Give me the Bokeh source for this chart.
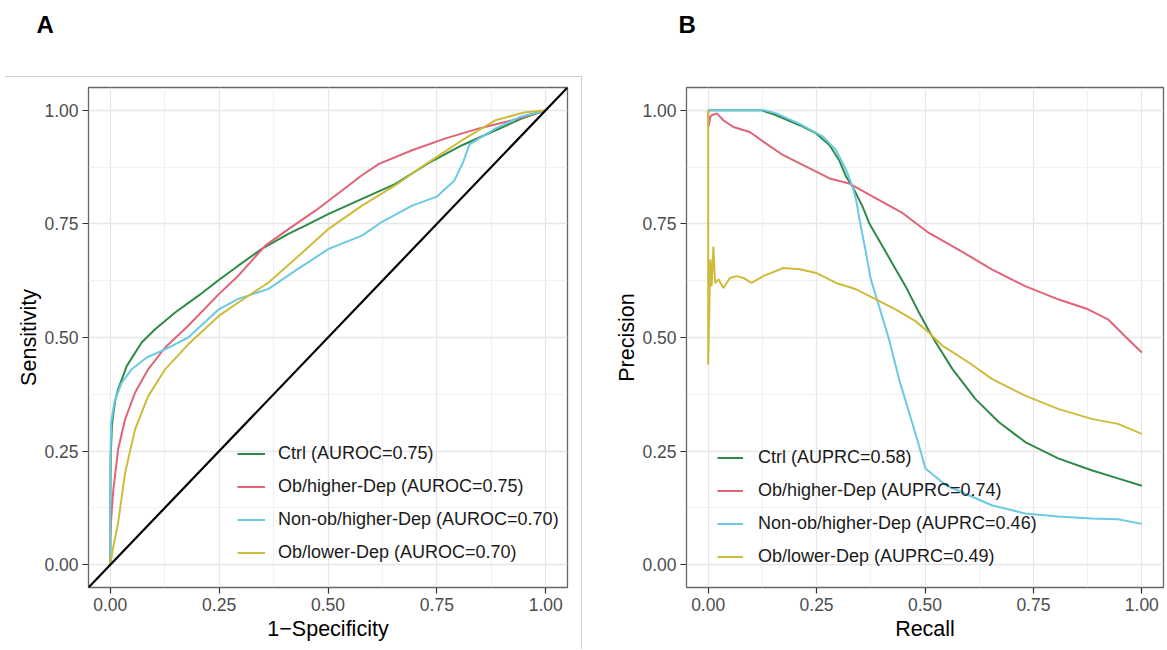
from bokeh.plotting import figure
from bokeh.layouts import row
from bokeh.models import Range1d, FixedTicker, Legend, LegendItem, LinearAxis
from bokeh.embed import file_html
from bokeh.resources import INLINE

FONT = "Liberation Sans"

# ---------------- data ----------------
TICKS = [0.0, 0.25, 0.5, 0.75, 1.0]
MINOR = [0.125, 0.375, 0.625, 0.875]
TICK_LABELS = ["0.00", "0.25", "0.50", "0.75", "1.00"]

SERIES = ["Ctrl", "Ob/higher-Dep", "Non-ob/higher-Dep", "Ob/lower-Dep"]
AUROC = ["0.75", "0.75", "0.70", "0.70"]
AUPRC = ["0.58", "0.74", "0.46", "0.49"]
COLORS = ["#2f8a48", "#e06377", "#6cc9e2", "#cdbc3c"]

# ROC curves (1-Specificity, Sensitivity)
roc_ctrl_x = [0, 0.0, 0.001, 0.004, 0.011, 0.018, 0.038, 0.072, 0.103, 0.149, 0.2025, 0.25, 0.294, 0.348,
              0.409, 0.448, 0.5015, 0.578, 0.655, 0.7315, 0.808, 0.885, 0.946, 1.0]
roc_ctrl_y = [0, 0.10, 0.24, 0.31, 0.36, 0.386, 0.4375, 0.489, 0.518, 0.555, 0.592, 0.627, 0.658, 0.695,
              0.728, 0.746, 0.772, 0.805, 0.838, 0.884, 0.923, 0.956, 0.982, 1.0]

roc_obh_x = [0, 0.0, 0.002, 0.007, 0.018, 0.034, 0.057, 0.087, 0.126, 0.179, 0.25, 0.294, 0.356, 0.41,
             0.471, 0.5015, 0.578, 0.617, 0.693, 0.77, 0.847, 0.923, 1.0]
roc_obh_y = [0, 0.05, 0.10, 0.165, 0.254, 0.32, 0.379, 0.43, 0.478, 0.526, 0.596, 0.636, 0.702, 0.739,
             0.779, 0.801, 0.857, 0.882, 0.912, 0.938, 0.96, 0.978, 1.0]

roc_nonob_x = [0, 0.0, 0.002, 0.01, 0.026, 0.049, 0.0835, 0.126, 0.179, 0.25, 0.294, 0.3635, 0.425, 0.5015,
               0.578, 0.62, 0.693, 0.75, 0.79, 0.81, 0.825, 0.885, 0.94, 1.0]
roc_nonob_y = [0, 0.20, 0.313, 0.36, 0.40, 0.43, 0.456, 0.474, 0.50, 0.5625, 0.585, 0.607, 0.647, 0.695,
               0.724, 0.752, 0.79, 0.81, 0.845, 0.885, 0.925, 0.96, 0.985, 1.0]

roc_obl_x = [0, 0.005, 0.018, 0.034, 0.057, 0.087, 0.126, 0.179, 0.25, 0.294, 0.3635, 0.425, 0.5015,
             0.578, 0.655, 0.7315, 0.808, 0.885, 0.95, 1.0]
roc_obl_y = [0, 0.03, 0.092, 0.202, 0.298, 0.371, 0.43, 0.485, 0.548, 0.577, 0.621, 0.673, 0.739,
             0.79, 0.835, 0.886, 0.934, 0.978, 0.995, 1.0]

# PR curves (Recall, Precision)
pr_ctrl_x = [0, 0.123, 0.157, 0.211, 0.249, 0.28, 0.302, 0.318, 0.333, 0.356, 0.371, 0.402, 0.424, 0.455,
             0.486, 0.509, 0.525, 0.563, 0.616, 0.67, 0.731, 0.807, 0.884, 0.945, 1.0]
pr_ctrl_y = [1.0, 1.0, 0.989, 0.967, 0.949, 0.923, 0.89, 0.854, 0.832, 0.788, 0.752, 0.701, 0.664, 0.613,
             0.555, 0.515, 0.489, 0.431, 0.365, 0.314, 0.27, 0.234, 0.208, 0.19, 0.174]

pr_obh_x = [0, 0.001, 0.005, 0.008, 0.02, 0.035, 0.058, 0.096, 0.127, 0.173, 0.226, 0.28, 0.325, 0.387,
            0.448, 0.509, 0.578, 0.654, 0.731, 0.807, 0.876, 0.922, 0.96, 1.0]
pr_obh_y = [1.0, 0.965, 0.985, 0.989, 0.993, 0.978, 0.963, 0.952, 0.931, 0.901, 0.876, 0.85, 0.839, 0.806,
            0.774, 0.73, 0.693, 0.65, 0.613, 0.584, 0.562, 0.54, 0.504, 0.467]

pr_nonob_x = [0, 0.13, 0.157, 0.211, 0.265, 0.295, 0.318, 0.333, 0.341, 0.352, 0.364, 0.375, 0.394, 0.417,
              0.44, 0.463, 0.486, 0.501, 0.548, 0.601, 0.654, 0.731, 0.807, 0.884, 0.945, 1.0]
pr_nonob_y = [1.0, 1.0, 0.993, 0.97, 0.942, 0.912, 0.869, 0.832, 0.803, 0.744, 0.686, 0.628, 0.569, 0.496,
              0.409, 0.336, 0.263, 0.212, 0.175, 0.153, 0.131, 0.113, 0.106, 0.102, 0.1, 0.09]

pr_obl_x = [0, 0.0, 0.003, 0.005, 0.008, 0.012, 0.016, 0.024, 0.035, 0.05, 0.066, 0.081, 0.10, 0.127, 0.173,
            0.211, 0.249, 0.295, 0.341, 0.387, 0.432, 0.478, 0.509, 0.54, 0.601, 0.654, 0.731, 0.807, 0.884,
            0.945, 1.0]
pr_obl_y = [1.0, 0.44, 0.58, 0.672, 0.613, 0.70, 0.62, 0.628, 0.609, 0.631, 0.635, 0.631, 0.62, 0.635, 0.653,
            0.65, 0.642, 0.62, 0.606, 0.584, 0.562, 0.536, 0.511, 0.482, 0.445, 0.409, 0.372, 0.343, 0.321,
            0.31, 0.288]

ROC = [(roc_ctrl_x, roc_ctrl_y), (roc_obh_x, roc_obh_y), (roc_nonob_x, roc_nonob_y), (roc_obl_x, roc_obl_y)]
PR = [(pr_ctrl_x, pr_ctrl_y), (pr_obh_x, pr_obh_y), (pr_nonob_x, pr_nonob_y), (pr_obl_x, pr_obl_y)]
DIAG = [-0.05, 1.05]


def make_fig(width, left, right, xlabel, ylabel, panel, offset):
    p = figure(width=width, height=649, x_range=Range1d(-0.05, 1.05), y_range=Range1d(-0.05, 1.05),
               min_border_left=left, min_border_right=right, min_border_top=87, min_border_bottom=62,
               output_backend="svg", toolbar_location=None, title=panel)
    p.background_fill_color = "white"
    p.border_fill_alpha = 0
    p.outline_line_color = "#666666"
    p.outline_line_width = 1.3
    bottom_axis = p.below[0]
    left_axis = p.left[0]
    bottom_axis.axis_label = xlabel
    left_axis.axis_label = ylabel
    # invisible spacer above the frame so the panel letter sits near the top
    spacer = LinearAxis(ticker=FixedTicker(ticks=[0.5]), major_tick_out=45, major_tick_in=0,
                        major_tick_line_color=None, axis_line_color=None,
                        major_label_text_font_size="0px", major_label_standoff=0,
                        minor_tick_line_color=None, major_label_overrides={0.5: ""})
    p.add_layout(spacer, "above")
    p.title.align = "left"
    p.title.offset = offset
    p.title.standoff = 10
    p.title.text_font = FONT
    p.title.text_font_size = "24px"
    p.title.text_font_style = "bold"
    p.title.text_color = "#000000"
    for ax in (bottom_axis, left_axis):
        ax.ticker = FixedTicker(ticks=TICKS, minor_ticks=MINOR)
        ax.major_label_overrides = {t: l for t, l in zip(TICKS, TICK_LABELS)}
        ax.axis_line_color = None
        ax.major_tick_line_color = "#333333"
        ax.major_tick_line_width = 1.2
        ax.major_tick_out = 6
        ax.major_tick_in = 0
        ax.minor_tick_line_color = None
        ax.major_label_text_font = FONT
        ax.major_label_text_font_size = "17.5px"
        ax.major_label_text_color = "#4d4d4d"
        ax.major_label_standoff = 4
        ax.axis_label_text_font = FONT
        ax.axis_label_text_font_size = "21.5px"
        ax.axis_label_text_font_style = "normal"
        ax.axis_label_text_color = "#000000"
    left_axis.axis_label_standoff = 0
    bottom_axis.axis_label_standoff = 3
    for g in (p.xgrid[0], p.ygrid[0]):
        g.grid_line_color = "#e6e6e6"
        g.grid_line_width = 1.3
        g.minor_grid_line_color = "#eeeeee"
        g.minor_grid_line_width = 0.8
    return p


def add_legend(p, renderers, labels, loc, gw, standoff):
    items = [LegendItem(label=lab, renderers=[r]) for lab, r in zip(labels, renderers)]
    lg = Legend(items=items, location=loc, glyph_width=gw, glyph_height=21, label_height=21,
                label_standoff=standoff, spacing=12, padding=0, margin=0,
                border_line_alpha=0, background_fill_alpha=0,
                label_text_font=FONT, label_text_font_size="18px", label_text_color="#1a1a1a")
    p.add_layout(lg)


# ---------------- Panel A ----------------
pA = make_fig(583, 88, 16, "1\u2212Specificity", "Sensitivity", "A", -52)
rA = []
for (xs, ys), c in zip(ROC, COLORS):
    rA.append(pA.line(xs, ys, line_color=c, line_width=2))
pA.line(DIAG, DIAG, line_color="#000000", line_width=2.2)
add_legend(pA, rA, [f"{s} (AUROC={a})" for s, a in zip(SERIES, AUROC)], (149, 24), 28, 13)
# thin grey frame around panel A (page decoration)
pA.styles = {
    "background-image": "linear-gradient(#cfcfcf, #cfcfcf), linear-gradient(#cfcfcf, #cfcfcf)",
    "background-size": "577px 1px, 1px 100%",
    "background-position": "5px 76px, 581px 76px",
    "background-repeat": "no-repeat",
}

# ---------------- Panel B ----------------
pB = make_fig(583, 103, 3, "Recall", "Precision", "B", -8)
rB = []
for (xs, ys), c in zip(PR, COLORS):
    rB.append(pB.line(xs, ys, line_color=c, line_width=2))
add_legend(pB, rB, [f"{s} (AUPRC={a})" for s, a in zip(SERIES, AUPRC)], (31, 20), 26, 15)

layout = row(pA, pB)
open("out.html", "w").write(file_html(layout, INLINE))
